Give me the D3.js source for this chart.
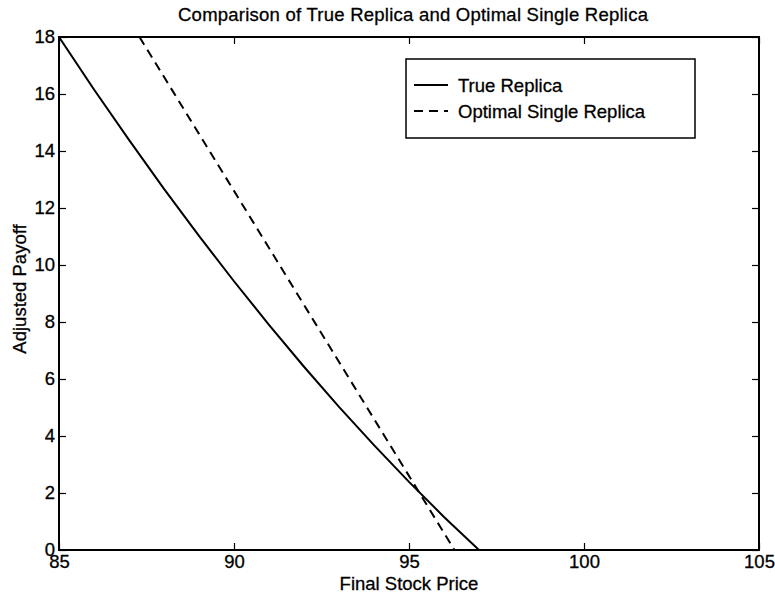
<!DOCTYPE html>
<html>
<head>
<meta charset="utf-8">
<script src="https://cdn.jsdelivr.net/npm/d3@7"></script>
<style>
  html, body { margin: 0; padding: 0; background: #fff; }
  text { font-family: "Liberation Sans", Arial, Helvetica, sans-serif; fill: #000; }
</style>
</head>
<body>
<svg id="chart" width="775" height="593"></svg>
<script>
// Final stock price grid and payoffs
const truePrice  = [85, 86, 87, 88, 89, 90, 91, 92, 93, 94, 95, 96, 97];
const truePayoff = [18, 16.16, 14.39, 12.67, 11.02, 9.43, 7.9, 6.43, 5.02, 3.68, 2.39, 1.16, 0];
const singlePrice  = [87.3, 96.3];
const singlePayoff = [18, 0];

const xTicks = [85, 90, 95, 100, 105];
const yTicks = [0, 2, 4, 6, 8, 10, 12, 14, 16, 18];

const titleText = "Comparison of True Replica and Optimal Single Replica";
const xLabel = "Final Stock Price";
const yLabel = "Adjusted Payoff";
const legendLabels = ["True Replica", "Optimal Single Replica"];

const svg = d3.select("#chart");
const m = { left: 59, top: 37, right: 759, bottom: 550 };

const x = d3.scaleLinear().domain([85, 105]).range([m.left, m.right]);
const y = d3.scaleLinear().domain([0, 18]).range([m.bottom, m.top]);

const fontSize = 18.5;
const textStyle = sel => sel.attr("font-size", fontSize)
  .attr("font-family", "Liberation Sans, Arial, sans-serif")
  .attr("stroke", "#000").attr("stroke-width", 0.3);

svg.append("defs").append("clipPath").attr("id", "plotClip")
  .append("rect").attr("x", m.left).attr("y", m.top)
  .attr("width", m.right - m.left).attr("height", m.bottom - m.top);

// axes with inward ticks on all four sides
const tickLen = 7;
function styleAxis(g) {
  g.select(".domain").remove();
  g.selectAll(".tick line").attr("stroke", "#000").attr("stroke-width", 1.2);
  g.selectAll(".tick text").call(textStyle);
}
svg.append("g").attr("transform", `translate(0,${m.bottom})`)
  .call(d3.axisBottom(x).tickValues(xTicks).tickSize(-tickLen).tickPadding(5).tickFormat(d3.format("d")))
  .call(styleAxis);
svg.append("g").attr("transform", `translate(0,${m.top})`)
  .call(d3.axisTop(x).tickValues(xTicks).tickSize(-tickLen).tickFormat(""))
  .call(styleAxis);
svg.append("g").attr("transform", `translate(${m.left},0)`)
  .call(d3.axisLeft(y).tickValues(yTicks).tickSize(-tickLen).tickPadding(4).tickFormat(d3.format("d")))
  .call(styleAxis);
svg.append("g").attr("transform", `translate(${m.right},0)`)
  .call(d3.axisRight(y).tickValues(yTicks).tickSize(-tickLen).tickFormat(""))
  .call(styleAxis);

// box
svg.append("rect").attr("x", m.left).attr("y", m.top)
  .attr("width", m.right - m.left).attr("height", m.bottom - m.top)
  .attr("fill", "none").attr("stroke", "#000").attr("stroke-width", 2);

const line = d3.line().x(d => x(d[0])).y(d => y(d[1]));
const plot = svg.append("g").attr("clip-path", "url(#plotClip)");

plot.append("path").datum(d3.zip(truePrice, truePayoff))
  .attr("d", line).attr("fill", "none").attr("stroke", "#000").attr("stroke-width", 2);
plot.append("path").datum(d3.zip(singlePrice, singlePayoff))
  .attr("d", line).attr("fill", "none").attr("stroke", "#000").attr("stroke-width", 2)
  .attr("stroke-dasharray", "9,6");

// titles
svg.append("text").attr("x", 413).attr("y", 21)
  .attr("text-anchor", "middle").attr("textLength", 470).text(titleText).call(textStyle);
svg.append("text").attr("x", (m.left + m.right) / 2).attr("y", 590)
  .attr("text-anchor", "middle").text(xLabel).call(textStyle);
svg.append("text").attr("transform", `translate(26,289) rotate(-90)`)
  .attr("text-anchor", "middle").text(yLabel).call(textStyle);

// legend
const lg = svg.append("g");
lg.append("rect").attr("x", 406).attr("y", 59).attr("width", 289).attr("height", 79)
  .attr("fill", "#fff").attr("stroke", "#000").attr("stroke-width", 1.5);
const rows = [
  { label: legendLabels[0], dash: null, yy: 85 },
  { label: legendLabels[1], dash: "9,6", yy: 111 }
];
rows.forEach(r => {
  lg.append("line").attr("x1", 414).attr("x2", 448).attr("y1", r.yy).attr("y2", r.yy)
    .attr("stroke", "#000").attr("stroke-width", 2)
    .attr("stroke-dasharray", r.dash);
  lg.append("text").attr("x", 458).attr("y", r.yy + 6.5).text(r.label).call(textStyle);
});
</script>
</body>
</html>
